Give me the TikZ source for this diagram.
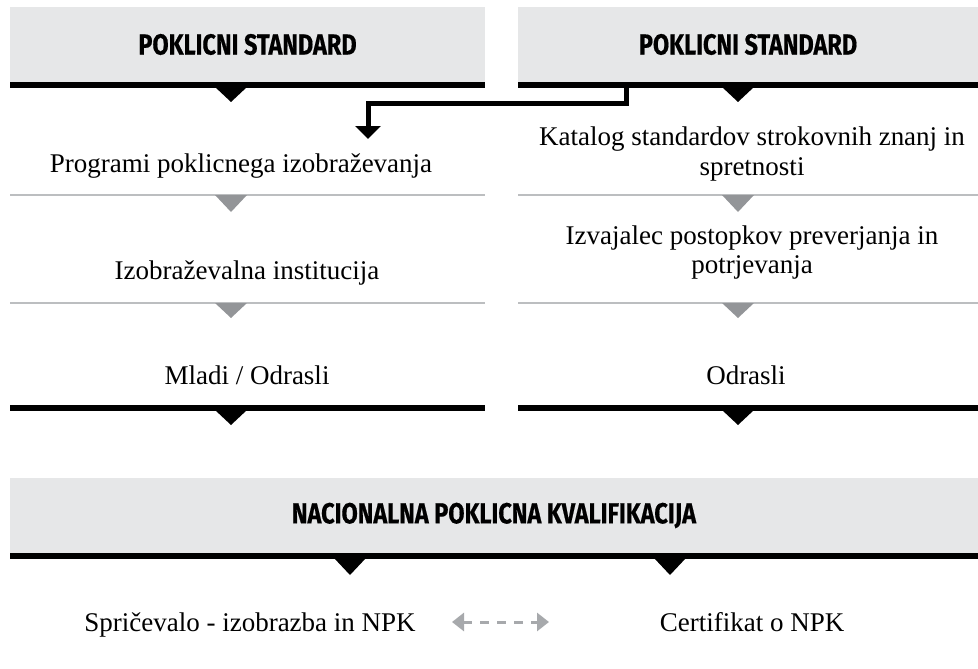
\documentclass[tikz,border=0pt]{standalone}
\usepackage{fontspec}
\setmainfont{Liberation Serif}
\newfontfamily\hfont[FakeStretch=0.81, BoldFeatures={FakeBold=0.5}]{Fira Sans}
\usetikzlibrary{arrows.meta}
\definecolor{boxgray}{HTML}{E6E7E8}
\definecolor{linegray}{HTML}{BCBEC0}
\definecolor{trigray}{HTML}{939598}
\definecolor{arrgray}{HTML}{A7A9AC}
\tikzset{
  hdrbox/.style={fill=boxgray, inner sep=0pt, minimum height=75pt, font=\hfont\bfseries\fontsize{29}{30}\selectfont},
  bodytext/.style={inner sep=0pt, anchor=base, align=center, font=\fontsize{27}{29}\selectfont},
  blackbar/.style={fill=black},
  graybar/.style={draw=linegray, line width=2pt},
  blacktri/.style={fill=black},
  graytri/.style={fill=trigray},
  elbow/.style={line width=5pt, line join=miter, -{Triangle[width=25pt,length=13pt]}},
  dasharrow/.style={arrgray, line width=3pt, dash pattern=on 9pt off 8pt, {Triangle[width=18pt,length=12pt]}-{Triangle[width=18pt,length=12pt]}}
}
\begin{document}
\begin{tikzpicture}[x=1pt,y=-1pt]
\useasboundingbox (0,0) rectangle (978,669);
% headers
\node[hdrbox, minimum width=475pt] (h1) at (247.5,44.5) {POKLICNI STANDARD};
\node[hdrbox, minimum width=460pt] (h2) at (748,44.5) {POKLICNI STANDARD};
\fill[blackbar] (10,82) rectangle (485,88);
\fill[blackbar] (518,82) rectangle (978,88);
\fill[blacktri] (215,87) -- (247,87) -- (231,102) -- cycle;
\fill[blacktri] (722,87) -- (754,87) -- (738,102) -- cycle;
% left column texts
\node[bodytext] (l1) at (241,172) {Programi poklicnega izobraževanja};
\node[bodytext] (l2) at (247,279) {Izobraževalna institucija};
\node[bodytext] (l3) at (247,384) {Mladi / Odrasli};
% right column texts
\node[bodytext] (r1) at (752,175) {Katalog standardov strokovnih znanj in\\spretnosti};
\node[bodytext] (r2) at (752,273) {Izvajalec postopkov preverjanja in\\potrjevanja};
\node[bodytext] (r3) at (746,384) {Odrasli};
% gray separators
\draw[graybar] (10,195) -- (485,195);
\draw[graybar] (518,195) -- (978,195);
\draw[graybar] (10,303) -- (485,303);
\draw[graybar] (518,303) -- (978,303);
\fill[graytri] (215,195) -- (247,195) -- (231,212) -- cycle;
\fill[graytri] (722,195) -- (754,195) -- (738,212) -- cycle;
\fill[graytri] (215,303) -- (247,303) -- (231,318) -- cycle;
\fill[graytri] (722,303) -- (754,303) -- (738,318) -- cycle;
% bottom black bars of columns
\fill[blackbar] (10,405) rectangle (485,411);
\fill[blackbar] (518,405) rectangle (978,411);
\fill[blacktri] (215,410) -- (247,410) -- (231,425) -- cycle;
\fill[blacktri] (722,410) -- (754,410) -- (738,425) -- cycle;
% elbow connector
\coordinate (e0) at (626,88);
\coordinate (e1) at (368,139);
\draw[elbow] (e0) -- ++(0,16) -| (e1);
% NPK header
\node[hdrbox, minimum width=968pt] (n1) at (494,515.5) {NACIONALNA POKLICNA KVALIFIKACIJA};
\fill[blackbar] (10,553) rectangle (978,559);
\fill[blacktri] (334,558) -- (366,558) -- (350,575) -- cycle;
\fill[blacktri] (654,558) -- (686,558) -- (670,575) -- cycle;
% bottom texts
\node[bodytext] (b1) at (250,631) {Spričevalo - izobrazba in NPK};
\node[bodytext] (b2) at (752,631) {Certifikat o NPK};
\coordinate (a1) at (452,622);
\coordinate (a2) at (549,622);
\draw[dasharrow] (a1) -- (a2);
\end{tikzpicture}
\end{document}
